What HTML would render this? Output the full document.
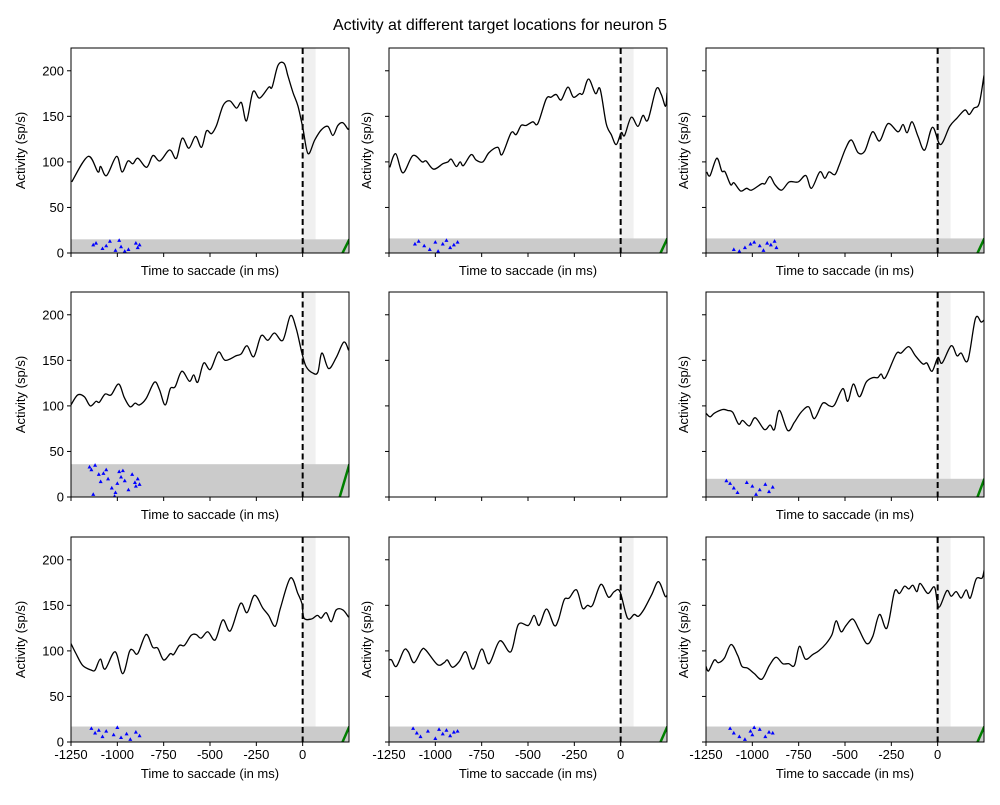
<!DOCTYPE html>
<html><head><meta charset="utf-8"><style>
body{margin:0;background:#fff;}
svg text{font-family:"Liberation Sans","DejaVu Sans",sans-serif;fill:#000;}
</style></head><body>
<svg id="fig" width="1000" height="800" viewBox="0 0 1000 800" xmlns="http://www.w3.org/2000/svg">
<rect width="1000" height="800" fill="#fff"/>
<text x="500" y="30" font-size="16" text-anchor="middle">Activity at different target locations for neuron 5</text>
</svg>
<script>
const xTicks=[-1250,-1000,-750,-500,-250,0];
const yTicks=[0,50,100,150,200];
const t1=[-1246,-1158,-1105,-1090,-1058,-1004,-975,-943,-916,-889,-842,-808,-771,-727,-709,-681,-650,-614,-578,-546,-519,-492,-465,-429,-393,-357,-330,-303,-268,-232,-183,-165,-133,-100,-79,-52,-25,2,29,65,100,136,163,190,217,244,250];
const v1=[78,106,89,95,85,106,89,101,98,104,94,107,101,112,112,104,126,115,128,116,134,131,140,162,167,159,165,145,177,170,182,182,206,208,194,176,161,136,109,124,135,139,129,140,143,136,137];
const t2=[-1246,-1214,-1175,-1121,-1071,-1050,-1009,-959,-932,-914,-887,-866,-848,-807,-780,-744,-711,-663,-640,-591,-564,-537,-510,-474,-447,-402,-375,-348,-321,-285,-255,-222,-204,-173,-136,-111,-78,-51,-24,3,21,57,93,120,147,192,219,242,250];
const v2=[94,109,88,107,100,101,92,98,100,103,95,100,96,108,102,100,110,116,108,132,130,140,140,144,142,169,171,174,168,182,171,175,175,191,175,180,142,130,119,132,129,149,139,151,146,180,174,161,176];
const t3=[-1246,-1228,-1192,-1165,-1147,-1117,-1099,-1063,-1031,-1004,-950,-932,-905,-878,-842,-801,-753,-711,-681,-636,-609,-586,-555,-532,-496,-465,-429,-393,-352,-313,-268,-214,-187,-165,-138,-106,-70,-28,15,65,104,147,170,195,224,250];
const v3=[89,85,104,90,89,75,77,68,71,69,76,76,84,75,69,78,78,85,71,89,82,89,86,96,115,124,110,112,133,123,142,133,141,132,144,128,113,138,119,139,148,157,152,159,164,195];
const t4=[-1250,-1214,-1178,-1146,-1115,-1097,-1066,-1034,-993,-962,-931,-904,-881,-845,-800,-773,-742,-714,-688,-652,-611,-588,-566,-534,-498,-455,-418,-359,-332,-300,-264,-224,-188,-152,-107,-66,-35,-4,19,55,82,104,140,181,222,248];
const v4=[101,112,110,100,105,104,113,112,124,109,99,103,101,108,126,118,101,119,121,138,127,134,126,147,140,159,150,155,157,166,154,177,172,180,172,199,185,158,143,136,137,158,141,153,170,161];
const t6=[-1250,-1228,-1205,-1160,-1133,-1106,-1074,-1052,-1016,-984,-935,-904,-881,-854,-809,-773,-737,-696,-665,-620,-584,-557,-512,-485,-455,-422,-386,-350,-323,-305,-282,-224,-197,-156,-120,-80,-58,-30,1,24,73,104,127,163,204,235,253];
const v6=[92,88,92,96,95,93,80,84,78,87,74,79,74,95,73,82,93,99,86,103,100,101,119,105,124,110,126,131,131,135,131,157,158,165,155,146,147,138,153,147,166,155,158,150,196,192,195];
const t7=[-1250,-1223,-1187,-1142,-1120,-1092,-1066,-1012,-971,-935,-917,-890,-845,-809,-782,-750,-714,-696,-665,-638,-602,-575,-548,-512,-472,-431,-390,-336,-300,-260,-215,-184,-148,-120,-66,-26,-4,7,47,79,100,127,154,181,217,248];
const v7=[108,97,84,79,79,91,80,99,75,99,101,97,118,104,103,90,97,96,106,106,117,118,114,121,112,134,122,152,142,161,147,139,127,147,180,163,152,136,135,139,136,142,132,145,145,137];
const t8=[-1250,-1236,-1210,-1169,-1146,-1115,-1074,-1052,-989,-953,-935,-908,-872,-836,-796,-750,-710,-652,-593,-552,-498,-467,-440,-400,-359,-336,-305,-278,-238,-206,-179,-152,-107,-66,-35,-4,37,73,96,127,168,204,240,253];
const v8=[90,90,83,101,99,87,101,101,85,87,90,82,88,99,80,102,86,111,99,129,128,139,128,146,128,134,156,158,167,147,150,150,173,159,165,165,136,140,138,146,162,176,160,163];
const t9=[-1250,-1236,-1205,-1183,-1151,-1115,-1079,-1056,-1025,-989,-948,-908,-872,-836,-804,-773,-746,-714,-674,-642,-602,-570,-548,-521,-494,-458,-426,-383,-350,-314,-274,-233,-206,-179,-156,-134,-112,-94,-53,-17,6,49,73,100,127,154,176,208,240,253];
const v9=[83,78,90,87,92,107,95,83,81,75,69,84,93,86,86,84,105,91,96,100,108,118,133,121,128,135,124,108,116,140,125,165,163,171,168,172,165,174,163,170,148,166,160,165,158,167,158,179,180,192];
const seriesTimes=[t1,t2,t3,t4,null,t6,t7,t8,t9];
const seriesVals=[v1,v2,v3,v4,null,v6,v7,v8,v9];
const rasterTop=[15,16,16,36,0,20,17,17,17];
const blueT=[[-1130,-1115,-1080,-1060,-1040,-1010,-990,-980,-960,-940,-900,-890,-880],[-1110,-1090,-1060,-1030,-1000,-985,-960,-940,-920,-900,-880],[-1100,-1070,-1040,-1010,-990,-960,-940,-920,-900,-880,-870],[-1150,-1140,-1120,-1100,-1090,-1060,-1050,-1030,-1010,-1000,-990,-980,-960,-940,-920,-900,-890,-880,-1130,-1075,-1015,-970,-905],null,[-1140,-1120,-1100,-1080,-1030,-1000,-980,-960,-930,-910,-890],[-1140,-1120,-1100,-1080,-1060,-1020,-1000,-980,-950,-930,-900,-880],[-1120,-1100,-1080,-1040,-1000,-980,-960,-940,-920,-900,-880],[-1120,-1100,-1070,-1040,-1010,-1000,-990,-960,-930,-910,-890]];
const blueY=[[9,11,5,8,13,3,14,7,2,4,11,6,9],[10,13,8,4,12,2,10,14,6,9,12],[4,2,6,10,12,8,3,11,9,13,6],[33,30,35,25,17,30,20,10,5,15,28,22,18,8,25,12,20,14,3,26,1,29,16],null,[18,15,10,5,16,12,3,8,14,6,11],[15,10,13,6,12,8,16,5,9,3,11,7],[15,10,6,12,4,14,9,13,7,11,12],[15,10,6,3,12,8,16,14,6,11,10]];
const ns="http://www.w3.org/2000/svg";
const svg=document.getElementById('fig');
const colX=[71,389,706], rowY=[48,292,537], W=278, H=205;
const XMIN=-1250,XMAX=250,YMIN=0,YMAX=225;
function mk(tag,attrs,parent){const e=document.createElementNS(ns,tag);for(const k in attrs)e.setAttribute(k,attrs[k]);(parent||svg).appendChild(e);return e;}
for(let i=0;i<9;i++){
  const r=Math.floor(i/3),c=i%3,x0=colX[c],y0=rowY[r];
  const sx=v=>x0+(v-XMIN)/(XMAX-XMIN)*W;
  const sy=v=>y0+H-(v-YMIN)/(YMAX-YMIN)*H;
  const g=mk('g',{});
  
  
  const cid='clip'+i;
  const cp=mk('clipPath',{id:cid},g);mk('rect',{x:x0,y:y0,width:W,height:H},cp);
  const inner=mk('g',{'clip-path':'url(#'+cid+')'},g);
  if(seriesTimes[i]){
    const sh=mk('rect',{x:sx(c===2?-8:0),y:y0,width:sx(70)-sx(c===2?-8:0),height:H,fill:'#f0f0f0'},inner);
    
    
    const rt=rasterTop[i];
    const ra=mk('rect',{x:x0,y:sy(rt),width:W,height:sy(0)-sy(rt),fill:'#cbcbcb'},inner);
    
    
    const bt=blueT[i],by=blueY[i];
    for(let k=0;k<bt.length;k++){
      const px=sx(bt[k]),py=sy(by[k]);
      const tri=mk('path',{d:`M${px-2},${py+1.6}L${px+2},${py+1.6}L${px},${py-2}Z`,fill:'#0000ff'},inner);
      
      
    }
    const gr=mk('line',{x1:sx(c===0&&r===1?200:215),y1:sy(0),x2:sx(252),y2:sy(rt),stroke:'#008000','stroke-width':2.5},inner);
    
    
    const dl=mk('line',{x1:sx(0),y1:y0,x2:sx(0),y2:y0+H,stroke:'#000','stroke-width':2,'stroke-dasharray':'6,3.5'},inner);
    
    
    const ts=seriesTimes[i],vs=seriesVals[i];
    const P=ts.map((t,k)=>[sx(t),sy(vs[k])]);
    let d=`M${P[0][0]},${P[0][1]}`;
    for(let k=0;k<P.length-1;k++){
      const p0=P[Math.max(0,k-1)],p1=P[k],p2=P[k+1],p3=P[Math.min(P.length-1,k+2)];
      const c1=[p1[0]+(p2[0]-p0[0])/6,p1[1]+(p2[1]-p0[1])/6];
      const c2=[p2[0]-(p3[0]-p1[0])/6,p2[1]-(p3[1]-p1[1])/6];
      d+=`C${c1[0]},${c1[1]} ${c2[0]},${c2[1]} ${p2[0]},${p2[1]}`;
    }
    const ln=mk('path',{d:d,fill:'none',stroke:'#000','stroke-width':1.3},inner);
    
    
  }
  const fr=mk('rect',{x:x0,y:y0,width:W,height:H,fill:'none',stroke:'#000','stroke-width':1},g);
  
  
  xTicks.forEach(t=>{
    mk('line',{x1:sx(t),y1:y0+H,x2:sx(t),y2:y0+H+4,stroke:'#000','stroke-width':1},g);
    if(r===2){const tx=mk('text',{x:sx(t),y:y0+H+17,'font-size':13,'text-anchor':'middle'},g);tx.textContent=t;
      
      }
  });
  yTicks.forEach(t=>{
    mk('line',{x1:x0,y1:sy(t),x2:x0-4,y2:sy(t),stroke:'#000','stroke-width':1},g);
    if(c===0){const tx=mk('text',{x:x0-7,y:sy(t)+4.5,'font-size':13,'text-anchor':'end'},g);tx.textContent=t;
      
      }
  });
  if(seriesTimes[i]){
    const xl=mk('text',{x:x0+W/2,y:y0+H+(r===2?36:22),'font-size':13,'text-anchor':'middle'},g);xl.textContent='Time to saccade (in ms)';
    
    
    const yx=c===0?25:x0-18;
    const yl=mk('text',{x:yx,y:y0+H/2,'font-size':13,'text-anchor':'middle',transform:`rotate(-90 ${yx} ${y0+H/2})`},g);yl.textContent='Activity (sp/s)';
    
    
  }
}
</script>
</body></html>
